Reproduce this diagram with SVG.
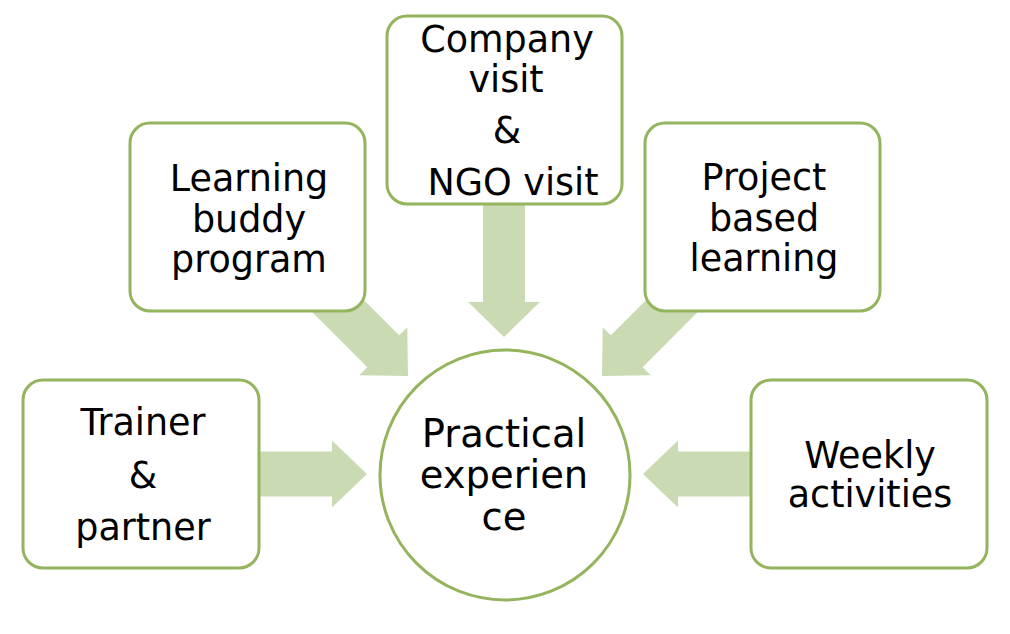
<svg xmlns="http://www.w3.org/2000/svg" width="1010" height="634" viewBox="0 0 1010 634">
<defs>
<style>
.box{fill:#fff;stroke:#94b45e;stroke-width:3}
.arr{fill:#cadbb4}
text{font-family:"DejaVu Sans","Liberation Sans",sans-serif;font-size:36.5px;fill:#000;text-anchor:middle}
.big{font-size:38.5px}
</style>
</defs>
<rect width="1010" height="634" fill="#fff"/>
<g id="connectors">
<path class="arr" transform="translate(367,474)" d="M-120,-22.5H-35V-33.5L0,0L-35,33.5V22.5H-120Z"/>
<path class="arr" transform="translate(643,474) rotate(180)" d="M-120,-22.5H-35V-33.5L0,0L-35,33.5V22.5H-120Z"/>
<path class="arr" transform="translate(504,337) rotate(90)" d="M-150,-21H-35V-36L0,0L-35,36V21H-150Z"/>
<path class="arr" transform="translate(408,376) rotate(45)" d="M-124,-22.5H-35V-34L0,0L-35,34V22.5H-124Z"/>
<path class="arr" transform="translate(602,376) rotate(135)" d="M-124,-22.5H-35V-34L0,0L-35,34V22.5H-124Z"/>
</g>
<g id="node-company">
<rect class="box" x="387" y="16" width="235" height="188" rx="20"/>
<text x="507" y="52">Company</text>
<text x="506" y="92">visit</text>
<text x="507" y="143">&amp;</text>
<text x="513" y="195">NGO visit</text>
</g>
<g id="node-buddy">
<rect class="box" x="130" y="123" width="235" height="188" rx="20"/>
<text x="249" y="191">Learning</text>
<text x="249" y="232">buddy</text>
<text x="249" y="272">program</text>
</g>
<g id="node-project">
<rect class="box" x="645" y="123" width="235" height="188" rx="20"/>
<text x="764" y="190">Project</text>
<text x="764" y="231">based</text>
<text x="764" y="271">learning</text>
</g>
<g id="node-trainer">
<rect class="box" x="23" y="380" width="236" height="188" rx="20"/>
<text x="143" y="435">Trainer</text>
<text x="143" y="488">&amp;</text>
<text x="143" y="540">partner</text>
</g>
<g id="node-weekly">
<rect class="box" x="751" y="380" width="236" height="188" rx="20"/>
<text x="870" y="468">Weekly</text>
<text x="870" y="507">activities</text>
</g>
<g id="node-center">
<circle class="box" cx="505" cy="475" r="125"/>
<text class="big" x="504" y="447">Practical</text>
<text class="big" x="504" y="488">experien</text>
<text class="big" x="504" y="530">ce</text>
</g>
</svg>
